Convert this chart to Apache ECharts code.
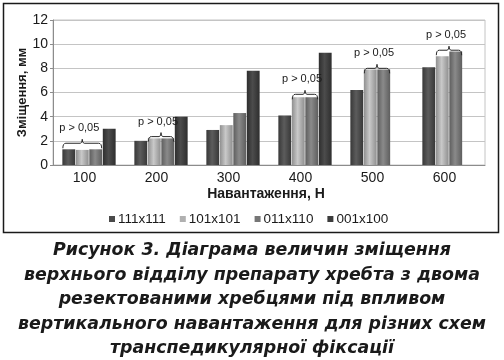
<!DOCTYPE html>
<html>
<head>
<meta charset="utf-8">
<script src="https://cdn.jsdelivr.net/npm/echarts@6/dist/echarts.min.js"></script>
<style>
html,body{margin:0;padding:0;background:#fff;}
#c{width:504px;height:360px;}
</style>
</head>
<body>
<div id="c"></div>
<script>
var categories = ['100', '200', '300', '400', '500', '600'];
var seriesNames = ['111x111', '101x101', '011x110', '001x100'];
var s111x111 = [1.3, 2.0, 2.9, 4.1, 6.2, 8.1];
var s101x101 = [1.25, 2.2, 3.3, 5.6, 7.9, 9.0];
var s011x110 = [1.3, 2.2, 4.3, 5.6, 7.9, 9.4];
var s001x100 = [3.0, 4.0, 7.8, 9.3, null, null];
var yTicks = [0, 2, 4, 6, 8, 10, 12];
// brackets: [categoryIndex, firstBar, lastBar, bracketLineValue]
var brackets = [
  [0, 0, 2, 1.8],
  [1, 1, 2, 2.35],
  [3, 1, 2, 5.85],
  [4, 1, 2, 8.0],
  [5, 1, 2, 9.5]
];
var bracketLabel = 'p > 0,05';

var CAT_GAP = 0.26, BAR_GAP = 0.05, NBARS = 4;

function grad(edge, mid) {
  return new echarts.graphic.LinearGradient(0, 0, 1, 0, [
    {offset: 0, color: edge},
    {offset: 0.45, color: mid},
    {offset: 1, color: edge}
  ]);
}
var colors = [
  grad('#383838', '#5c5c5c'),
  grad('#8f8f8f', '#c9c9c9'),
  grad('#5e5e5e', '#8a8a8a'),
  grad('#2e2e2e', '#4c4c4c')
];
var flat = ['#4a4a4a', '#b0b0b0', '#767676', '#3c3c3c'];
var dataArr = [s111x111, s101x101, s011x110, s001x100];

var series = seriesNames.map(function (n, i) {
  return {
    name: n,
    type: 'bar',
    data: dataArr[i],
    barGap: (BAR_GAP * 100) + '%',
    barCategoryGap: (CAT_GAP * 100) + '%',
    itemStyle: {color: colors[i]},
    emphasis: {disabled: true}
  };
});

series.push({
  type: 'custom',
  data: brackets,
  silent: true,
  z: 10,
  renderItem: function (params, api) {
    var idx = api.value(0), s = api.value(1), e = api.value(2), v = api.value(3);
    var p = api.coord([idx, v]);
    var catW = api.size([1, 0])[0];
    var bandW = catW * (1 - CAT_GAP);
    var bw = bandW / (NBARS + (NBARS - 1) * BAR_GAP);
    var g = bw * BAR_GAP;
    var x0 = p[0] - bandW / 2 + s * (bw + g) + 0.5;
    var x1 = p[0] - bandW / 2 + e * (bw + g) + bw - 0.5;
    var y = p[1];
    var xm = (x0 + x1) / 2;
    var d = 'M' + x0 + ' ' + (y + 5) + ' Q' + x0 + ' ' + y + ' ' + (x0 + 3) + ' ' + y +
      ' L' + (xm - 2) + ' ' + y + ' Q' + xm + ' ' + y + ' ' + xm + ' ' + (y - 4) +
      ' Q' + xm + ' ' + y + ' ' + (xm + 2) + ' ' + y +
      ' L' + (x1 - 3) + ' ' + y + ' Q' + x1 + ' ' + y + ' ' + x1 + ' ' + (y + 5);
    return {
      type: 'group',
      children: [
        {type: 'path', shape: {pathData: d}, style: {fill: null, stroke: '#2a2a2a', lineWidth: 1}},
        {type: 'text', x: xm - 3, y: y - 15,
          style: {text: bracketLabel, align: 'center', verticalAlign: 'middle',
            font: '11px "Liberation Sans", Arial, sans-serif', fill: '#1a1a1a'}}
      ]
    };
  }
});

var chart = echarts.init(document.getElementById('c'), null, {renderer: 'canvas'});
chart.setOption({
  animation: false,
  backgroundColor: '#fff',
  textStyle: {fontFamily: '"Liberation Sans", Arial, sans-serif'},
  graphic: [
    {type: 'rect', shape: {x: 3.5, y: 3.5, width: 495, height: 229},
      style: {fill: null, stroke: '#1a1a1a', lineWidth: 1.5}, z: -1},
    {type: 'text', x: 252, y: 238.5,
      style: {
        text: 'Рисунок 3. Діаграма величин зміщення\nверхнього відділу препарату хребта з двома\nрезектованими хребцями під впливом\nвертикального навантаження для різних схем\nтранспедикулярної фіксації',
        align: 'center', verticalAlign: 'top', lineHeight: 24.5,
        font: 'italic bold 17.4px "DejaVu Sans", sans-serif', fill: '#1a1a1a'
      }}
  ],
  legend: {
    data: seriesNames.map(function (n, i) { return {name: n, itemStyle: {color: flat[i]}}; }),
    top: 207, left: 104,
    icon: 'rect', itemWidth: 6, itemHeight: 6, itemGap: 14,
    textStyle: {fontSize: 13.5, color: '#1a1a1a', padding: [0, 0, 0, -2]}
  },
  grid: {left: 53, right: 19, top: 20, bottom: 195, show: true, borderColor: '#c4c4c4', borderWidth: 1},
  xAxis: {
    type: 'category',
    data: categories,
    name: 'Навантаження, Н',
    nameLocation: 'middle', nameGap: 22,
    nameTextStyle: {fontSize: 14, fontWeight: 'bold', color: '#1a1a1a', padding: [0, 6, 0, 0]},
    axisLine: {lineStyle: {color: '#8c8c8c'}},
    axisTick: {length: 4, lineStyle: {color: '#8c8c8c'}},
    axisLabel: {fontSize: 14, color: '#1a1a1a', margin: 6, padding: [0, 9, 0, 0]}
  },
  yAxis: {
    type: 'value', min: 0, max: 12, interval: 2,
    name: 'Зміщення, мм',
    nameLocation: 'middle', nameGap: 24, nameRotate: 90,
    nameMoveOverlap: false,
    nameTextStyle: {fontSize: 13, fontWeight: 'bold', color: '#1a1a1a'},
    axisLine: {show: true, lineStyle: {color: '#8c8c8c'}},
    axisTick: {show: true, length: 3, lineStyle: {color: '#8c8c8c'}},
    axisLabel: {fontSize: 14, color: '#1a1a1a', margin: 5,
      formatter: function (v) { return yTicks.indexOf(v) >= 0 ? String(v) : ''; }},
    splitLine: {lineStyle: {color: '#c4c4c4'}}
  },
  series: series
});
</script>
</body>
</html>
